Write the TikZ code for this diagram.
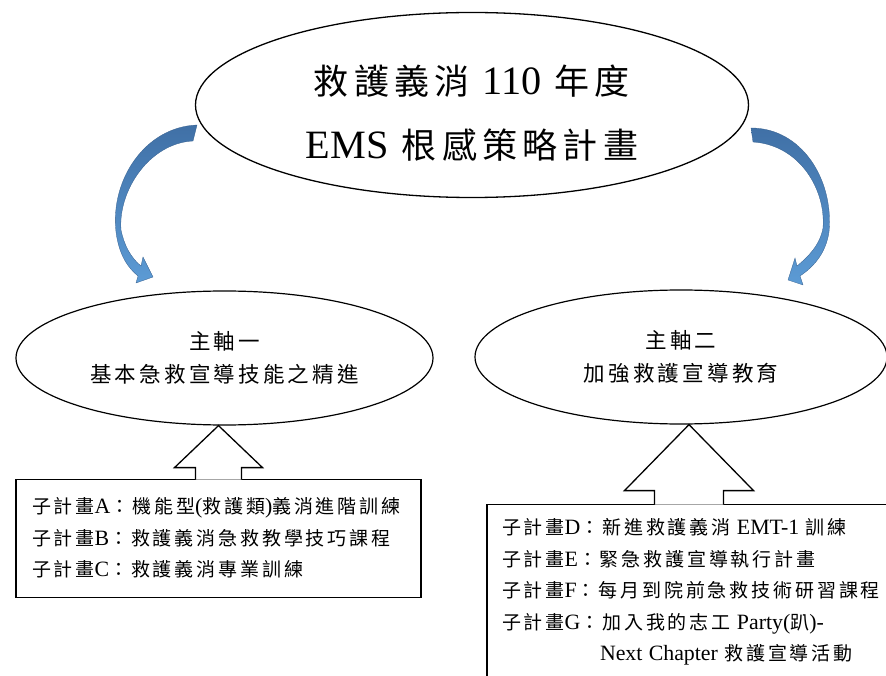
\documentclass[tikz,border=0pt]{standalone}
\usepackage{fontspec}
\setmainfont{Liberation Serif}[Scale=1.15]
\newfontfamily\cjk[LetterSpace=15]{Noto Sans CJK TC}
\usepackage{xcolor}
\usepackage{tikz}
\usetikzlibrary{shapes.geometric,positioning}
\definecolor{arrowtop}{RGB}{64,112,166}
\definecolor{arrowbot}{RGB}{92,155,213}
\newcommand{\en}[1]{{\rmfamily #1}}

\begin{document}
\begin{tikzpicture}[
    x=1pt, y=-1pt,
    font=\cjk,
    goal/.style={
		ellipse,
		draw=black,
		line width=1.3pt,
		align=center,
		inner sep=0pt,
		minimum width=553pt,
		minimum height=185pt,
		font=\cjk\fontsize{35}{64}\selectfont
	},
	theme/.style={
		ellipse,
		draw=black,
		line width=1.2pt,
		align=center,
		inner sep=0pt,
		minimum height=134pt,
		font=\cjk\fontsize{21.5}{33}\selectfont
	},
	subplan/.style={
		rectangle,
		draw=black,
		line width=1.3pt,
		align=left,
		inner ysep=0pt,
		font=\cjk\fontsize{19}{31.5}\selectfont
	},
	callout/.style={
		draw=black,
		line width=1.3pt,
		fill=white
	},
	bluearrow/.style={
		top color=arrowtop,
		bottom color=arrowbot,
		draw=arrowtop!85!black,
		line width=0.3pt
	}
  ]
\useasboundingbox (0,0) rectangle (886,676);
\clip (0,0) rectangle (886,676);

% // the plan
\node [goal] (plan) at (472,105)
 {\rule{0pt}{46pt}救護義消~\en{110}~年度\\\en{EMS}~根感策略計畫};

% // the two axes
\node [theme, minimum width=417pt] (themeA) at (224.5,358)
 {主軸一\\基本急救宣導技能之精進};
\node [theme, minimum width=412pt] (themeB) at (681,357)
 {主軸二\\加強救護宣導教育};

% // blue arrows
\path [bluearrow] (197,125) .. controls (145,127) and (110,180) .. (116,232)
  .. controls (119,255) and (128,268) .. (138,276) -- (136,283) -- (153,277)
  -- (143,257) -- (141,266) .. controls (131,258) and (124,245) .. (121,230)
  .. controls (118,190) and (150,143) .. (193,141) -- cycle;
\path [bluearrow] (751,128) .. controls (802,128) and (834,180) .. (829,232)
  .. controls (826,252) and (815,266) .. (800,276) -- (803,285) -- (788,280)
  -- (795,258) -- (797,266) .. controls (808,257) and (820,245) .. (823,228)
  .. controls (826,190) and (800,145) .. (753,142) -- cycle;

% // sub plans
\node [subplan, below=53pt of themeA, xshift=-6pt,
  text width=373pt, inner xsep=16pt, minimum height=118pt] (subA)
 {%
  子計畫\en{A}：機能型\en{(}救護類\en{)}義消進階訓練\\
  子計畫\en{B}：救護義消急救教學技巧課程\\
  子計畫\en{C}：救護義消專業訓練
 };
\node [subplan, below=79pt of themeB, xshift=8pt,
  text width=374pt, inner xsep=15pt, minimum height=176pt] (subB)
 {%
  子計畫\en{D}：新進救護義消~\en{EMT-1}~訓練\\
  子計畫\en{E}：緊急救護宣導執行計畫\\
  子計畫\en{F}：每月到院前急救技術研習課程\\
  子計畫\en{G}：加入我的志工~\en{Party(}趴\en{)-}\\
  \hspace*{98pt}\en{Next~Chapter}~救護宣導活動
 };

% // up arrows
\path [callout] ([xshift=-23pt,yshift=-1pt]subA.north)
  |- ([xshift=-44pt,yshift=11pt]subA.north) -- (subA.north |- themeA.south)
  -- ([xshift=44pt,yshift=11pt]subA.north) -| ([xshift=23pt,yshift=-1pt]subA.north);
\path [callout] ([xshift=-34.5pt,yshift=-1pt]subB.north)
  |- ([xshift=-64.5pt,yshift=13pt]subB.north) -- (subB.north |- themeB.south)
  -- ([xshift=64.5pt,yshift=13pt]subB.north) -| ([xshift=34.5pt,yshift=-1pt]subB.north);

\end{tikzpicture}
\end{document}
